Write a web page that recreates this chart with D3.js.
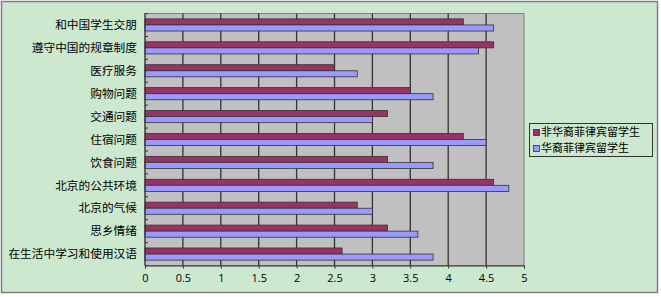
<!DOCTYPE html>
<html><head><meta charset="utf-8">
<script src="https://cdn.jsdelivr.net/npm/d3@7"></script>
<style>body{margin:0;background:#fff}</style>
</head><body><svg id="c" width="661" height="297"></svg>
<script>
const categories = ["和中国学生交朋","遵守中国的规章制度","医疗服务","购物问题","交通问题","住宿问题","饮食问题","北京的公共环境","北京的气候","思乡情绪","在生活中学习和使用汉语"];
const seriesNames = ["非华裔菲律宾留学生","华裔菲律宾留学生"];
const nonChinese = [4.2,4.6,2.5,3.5,3.2,4.2,3.2,4.6,2.8,3.2,2.6];
const chinese    = [4.6,4.4,2.8,3.8,3.0,4.5,3.8,4.8,3.0,3.6,3.8];
const xTicks = [0,0.5,1,1.5,2,2.5,3,3.5,4,4.5,5];
const colors = ["#993366","#9999FF"];

const svg = d3.select("#c");
svg.append("rect").attr("x",1.5).attr("y",1.5).attr("width",656).attr("height",291)
  .attr("fill","#CCE8CF").attr("stroke","#808080").attr("stroke-width",1.5);

const L=145, R=524, T=13.5, B=265.5;
const x = d3.scaleLinear().domain([0,5]).range([L,R]);
const y = d3.scaleBand().domain(categories).range([T,B]).paddingInner(0.47).paddingOuter(0.235);
const yb = d3.scaleBand().domain([0,1]).range([0,y.bandwidth()]);

svg.append("rect").attr("x",L).attr("y",T).attr("width",R-L).attr("height",B-T)
  .attr("fill","#C0C0C0").attr("stroke","#808080").attr("stroke-width",1);

// grid
svg.append("g").selectAll("line").data(xTicks.slice(1,-1)).join("line")
  .attr("x1",d=>x(d)).attr("x2",d=>x(d)).attr("y1",T).attr("y2",B)
  .attr("stroke","#333").attr("stroke-width",1.3);

// bars
const data = [nonChinese, chinese];
const g = svg.append("g");
categories.forEach((c,i)=>{
  data.forEach((s,j)=>{
    g.append("rect").attr("x",x(0)).attr("y",y(c)+yb(j))
     .attr("width",x(s[i])-x(0)).attr("height",yb.bandwidth())
     .attr("fill",colors[j]).attr("stroke","#333").attr("stroke-width",0.8);
  });
});

// axes
const xAxis = d3.axisBottom(x).tickValues(xTicks).tickFormat(d3.format("")).tickSize(3).tickPadding(6);
const xg = svg.append("g").attr("transform",`translate(0,${B})`).call(xAxis);
xg.select(".domain").attr("stroke","#333");
xg.selectAll(".tick line").attr("stroke","#333");
xg.selectAll("text").attr("font-family","Open Sans, sans-serif").attr("font-size","11px").attr("fill","#000");

// y axis line and inward boundary ticks
svg.append("line").attr("x1",L).attr("x2",L).attr("y1",T).attr("y2",B).attr("stroke","#333").attr("stroke-width",1.2);
svg.append("g").selectAll("line").data(d3.range(categories.length+1)).join("line")
  .attr("x1",L).attr("x2",L+3).attr("y1",d=>T+d*(B-T)/categories.length).attr("y2",d=>T+d*(B-T)/categories.length)
  .attr("stroke","#333");
svg.append("g").selectAll("text").data(categories).join("text")
  .attr("x",137).attr("y",d=>y(d)+y.bandwidth()/2).attr("dy","0.36em")
  .attr("text-anchor","end").attr("font-family","Noto Sans CJK SC").attr("font-size","11.7px").attr("fill","#000")
  .text(d=>d);

// legend
const lg = svg.append("g");
lg.append("rect").attr("x",529.5).attr("y",123.5).attr("width",123).attr("height",33)
  .attr("fill","#CCE8CF").attr("stroke","#333").attr("stroke-width",1);
seriesNames.forEach((n,i)=>{
  lg.append("rect").attr("x",533.5).attr("y",129.5+i*16).attr("width",6).attr("height",6)
    .attr("fill",colors[i]).attr("stroke","#333").attr("stroke-width",0.8);
  lg.append("text").attr("x",541).attr("y",132.5+i*16).attr("dy","0.36em")
    .attr("font-family","Noto Sans CJK SC").attr("font-size","11px").text(n);
});
</script></body></html>
